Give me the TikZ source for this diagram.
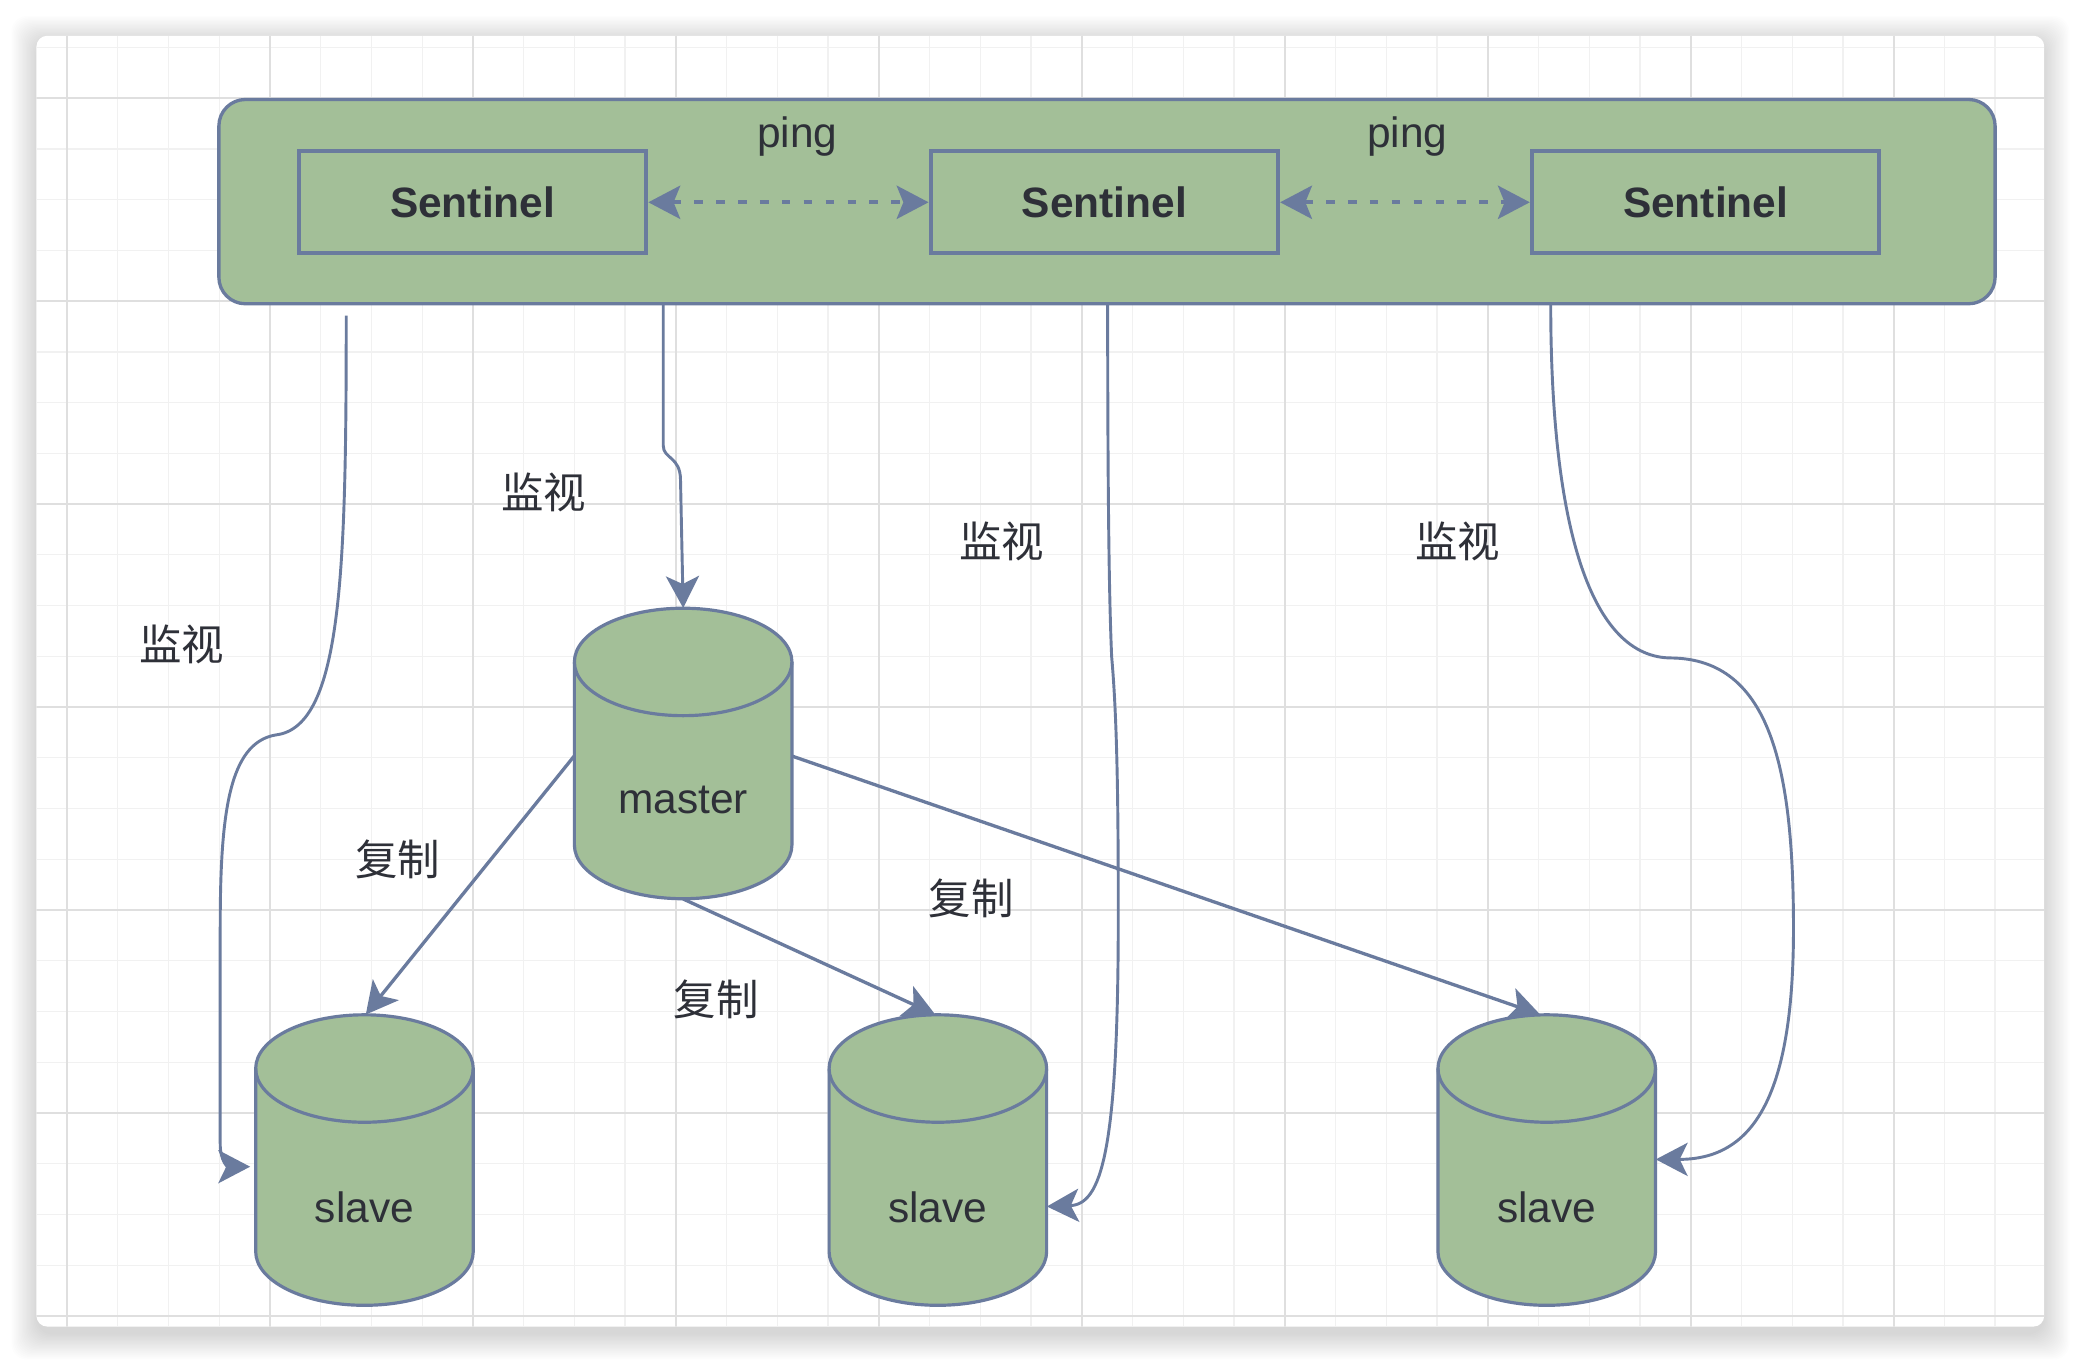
\documentclass[tikz,border=0pt]{standalone}
\usepackage{fontspec}
\setmainfont{Liberation Sans}
\newfontfamily\cjk{Noto Sans CJK SC}
\usetikzlibrary{arrows.meta}
\definecolor{sage}{HTML}{A3BF98}
\definecolor{slate}{HTML}{6A7B9E}
\definecolor{ink}{HTML}{2E3038}
\definecolor{gridmajor}{HTML}{DFDFDF}
\definecolor{gridminor}{HTML}{F1F1F1}
\begin{document}
\begin{tikzpicture}[x=1pt,y=-1pt,
  conn/.style={draw=slate,line width=2.2pt,-{Stealth[length=24pt,width=25pt,inset=6pt]}},
  repl/.style={draw=slate,line width=2.5pt,-{Stealth[length=24pt,width=25pt,inset=6pt]}},
  pingarrow/.style={draw=slate,line width=3pt,dash pattern=on 6.5pt off 10pt,
     {Stealth[length=24pt,width=25pt,inset=5pt]}-{Stealth[length=24pt,width=25pt,inset=5pt]}},
  sentbox/.style={draw=slate,fill=sage,line width=3pt,minimum width=262pt,minimum height=77pt,
     inner sep=0pt,text=ink,font=\bfseries\fontsize{32}{38}\selectfont},
  groupbox/.style={draw=slate,fill=sage,line width=2.5pt,rounded corners=20pt,
     minimum width=1339pt,minimum height=154pt,inner sep=0pt},
  cylnode/.style={minimum width=164pt,minimum height=219pt,inner sep=0pt,draw=none},
  lbl/.style={text=ink,font=\fontsize{32}{38}\selectfont,inner sep=0pt},
  cnlbl/.style={text=ink,font=\cjk\fontsize{32}{38}\selectfont,inner sep=0pt},
  dbcyl/.pic={
    \path[fill=sage,draw=slate,line width=2.4pt] (-82,-69) -- (-82,69)
      arc[start angle=180,end angle=360,x radius=82pt,y radius=40.5pt] -- (82,-69)
      arc[start angle=0,end angle=180,x radius=82pt,y radius=40.5pt] -- cycle;
    \draw[slate,line width=2.4pt] (-82,-69) arc[start angle=180,end angle=360,x radius=82pt,y radius=40.5pt];
  }]
\useasboundingbox (0,0) rectangle (1568,1026.7);
\fill[white] (0,0) rectangle (1568,1026.7);
% card shadow
\foreach \i in {0,...,19}
  \fill[black,opacity=0.009,rounded corners=12pt] ({27.5-\i},{31-\i}) rectangle ({1541+\i},{1006+\i});
% card
\fill[white,rounded corners=8pt] (27.5,27) rectangle (1541,1000);
\begin{scope}
  \clip[rounded corners=8pt] (27.5,27) rectangle (1541,1000);
  \foreach \k in {0,...,39} \draw[gridminor,line width=1pt] ({50.5+38.25*\k},27) -- ({50.5+38.25*\k},1000);
  \foreach \k in {-1,...,24} \draw[gridminor,line width=1pt] (27.5,{74+38.25*\k}) -- (1541,{74+38.25*\k});
  \foreach \k in {0,...,9} \draw[gridmajor,line width=1.5pt] ({50.5+153*\k},27) -- ({50.5+153*\k},1000);
  \foreach \k in {0,...,6} \draw[gridmajor,line width=1.5pt] (27.5,{74+153*\k}) -- (1541,{74+153*\k});
\end{scope}

% sentinel group
\node[groupbox] (group) at (834.5,152) {};
\node[sentbox] (s1) at (356.25,152.5) {Sentinel};
\node[sentbox] (s2) at (832.5,152.5) {Sentinel};
\node[sentbox] (s3) at (1285.75,152.5) {Sentinel};
\node[lbl] (ping1) at (601,103) {ping};
\node[lbl] (ping2) at (1061,103) {ping};
\draw[pingarrow] (s1.east) -- (s2.west);
\draw[pingarrow] (s2.east) -- (s3.west);

% cylinders
\pic at (515,568) {dbcyl};
\pic at (274.75,874.5) {dbcyl};
\pic at (707,874.5) {dbcyl};
\pic at (1166,874.5) {dbcyl};
\node[cylnode] (master) at (515,568) {};
\node[cylnode] (slave1) at (274.75,874.5) {};
\node[cylnode] (slave2) at (707,874.5) {};
\node[cylnode] (slave3) at (1166,874.5) {};
\node[lbl] (mastertxt) at (515,603) {master};
\node[lbl] (slave1txt) at (274.75,910) {slave};
\node[lbl] (slave2txt) at (707,910) {slave};
\node[lbl] (slave3txt) at (1166,910) {slave};

% replication
\draw[repl] ([yshift=-2pt]master.west) -- ([xshift=1pt]slave1.north);
\draw[repl] (master.south) -- ([xshift=-2pt]slave2.north);
\draw[repl] ([yshift=-2pt]master.east) -- ([xshift=-5pt]slave3.north);

% monitoring
\coordinate (m1) at (261,238);
\coordinate (m2) at (500,229);
\coordinate (m3) at (835,229);
\coordinate (m4) at (1169,229);
\draw[conn] (m1) .. controls (261,430) and (258,548) .. (208,554)
   .. controls (172,560) and (166,615) .. (166,700) -- (166,862)
   .. controls (166,876) and (172,879.5) .. ([xshift=-4pt,yshift=-5pt]slave1.west);
\draw[conn] (m2) -- (500,336) .. controls (500,346) and (513,344) .. (513,362) -- (master.north);
\draw[conn] (m3) .. controls (835,420) and (837,470) .. (838,495)
   .. controls (842,540) and (843,600) .. (843,690)
   .. controls (843,870) and (830,908) .. ([yshift=-35pt]slave2.east);
\draw[conn] (m4) .. controls (1169,400) and (1200,496) .. (1260,496)
   .. controls (1335,497) and (1352,580) .. (1352,700)
   .. controls (1352,830) and (1320,874) .. ([yshift=0.5pt]slave3.east);

% labels
\node[cnlbl] (mon1) at (410,371) {监视};
\node[cnlbl] (mon2) at (137,486) {监视};
\node[cnlbl] (mon3) at (755,408) {监视};
\node[cnlbl] (mon4) at (1099,408) {监视};
\node[cnlbl] (rep1) at (300,648) {复制};
\node[cnlbl] (rep2) at (540,753) {复制};
\node[cnlbl] (rep3) at (732,677) {复制};
\end{tikzpicture}
\end{document}
